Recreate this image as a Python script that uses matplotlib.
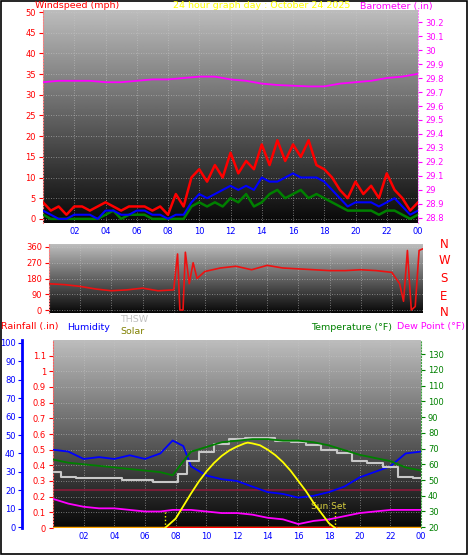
import numpy as np
import matplotlib
matplotlib.use("Agg")
import matplotlib.pyplot as plt
from matplotlib.patches import Rectangle

# ---------------- data ----------------
hours_half = [i * 0.5 for i in range(49)]
wind_gust = [4,2,3,1,3,3,2,3,4,3,2,3,3,3,2,3,1,6,3,10,12,9,13,10,16,11,14,12,18,13,19,14,18,15,19,13,12,10,7,5,9,6,8,5,11,7,5,2,4]
wind_avg = [2,1,0,0,1,1,1,0,2,2,1,1,2,2,1,1,0,1,1,4,6,5,6,7,8,7,8,7,10,9,9,10,11,10,10,10,9,7,5,3,4,4,4,3,4,5,3,1,2]
wind_speed = [1,0,0,0,0,0,0,0,1,2,0,1,1,1,0,0,0,0,0,3,4,3,4,3,5,4,6,3,4,6,7,5,6,7,5,6,5,4,3,2,2,2,2,1,2,2,1,0,1]

hours = list(range(25))
barometer = [29.77,29.78,29.78,29.78,29.77,29.77,29.78,29.79,29.79,29.80,29.81,29.81,29.79,29.78,29.76,29.75,29.745,29.74,29.74,29.76,29.77,29.78,29.80,29.81,29.83]

dir_hours = [0,1,2,3,4,5,6,7,8,8.25,8.4,8.6,8.75,9,9.25,9.5,10,11,12,13,14,15,16,17,18,19,20,21,22,22.5,22.75,23,23.25,23.5,23.75,24]
wind_dir = [150,145,135,120,110,115,125,110,115,320,0,0,330,150,270,180,220,240,250,230,255,240,235,230,225,225,230,225,215,150,50,340,0,20,340,350]

th_hours = [0,1,2,3,4,5,6,7,7.8,8.5,9,10,11,12,13,14,15,16,17,18,19,20,21,22,23,24]
humidity = [42,41,37,38,37,39,37,40,47,44,33,28,26,25,22,19,18,16,17,19,22,27,30,33,40,41]
temperature = [63,61,60,59,58,57,56,55,53,62,68,71,74,75,76,76,75,75,74,72,69,66,64,62,58,56]
thsw = [55,52,51,51,51,50,50,49,49,54,62,68,73,76,77,77,75,74,72,69,67,62,61,58,52,51]
dewpoint = [38,35,33,32,32,31,30,30,31,31,31,30,29,29,28,26,25,22,24,25,27,29,30,31,31,31]

solar_hours = [7.3,7.6,8,8.5,9,9.5,10,10.5,11,11.5,12,12.5,12.7,13,13.5,14,14.5,15,15.5,16,16.5,17,17.5,18,18.4]
solar = [0,25,60,140,220,295,360,415,460,495,520,540,545,540,528,500,465,420,365,300,235,160,95,30,0]
rain_hours = [0,24]
rainfall = [0,0]
sunrise, sunset = 7.3, 18.4

xticks = [2,4,6,8,10,12,14,16,18,20,22,24]
xticklabels = ["02","04","06","08","10","12","14","16","18","20","22","00"]

W, H = 468, 555
fig = plt.figure(figsize=(W/100, H/100), dpi=100)
fig.patch.set_facecolor("white")
fig.add_artist(Rectangle((0.002, 0.002), 0.996, 0.996, transform=fig.transFigure,
                         fill=False, edgecolor="black", lw=1.2))

def ax_at(l, t, r, b):
    return fig.add_axes([l/W, 1-b/H, (r-l)/W, (b-t)/H])

def gradient(ax):
    g = np.linspace(0.74, 0.03, 256).reshape(-1, 1)
    ax.imshow(g, cmap="gray", vmin=0, vmax=1, aspect="auto",
              extent=[0, 24, ax.get_ylim()[0], ax.get_ylim()[1]], zorder=0)
    ax.set_xlim(0, 24)

def style_x(ax):
    ax.set_xticks(xticks)
    ax.set_xticklabels(xticklabels, color="blue", fontsize=6)
    ax.tick_params(axis="x", length=0, pad=3)
    ax.grid(True, color="#c8c8c8", ls=(0, (1, 2)), lw=0.6, alpha=0.7)
    for s in ax.spines.values():
        s.set_visible(False)

FS = 6.8

# ---------------- top panel ----------------
ax1 = ax_at(43, 10, 418, 223)
ax1.set_ylim(-1, 50.5)
gradient(ax1)
style_x(ax1)
ax1.set_yticks(range(0, 51, 5))
ax1.tick_params(axis="y", colors="red", labelsize=6, length=3, pad=2)
ax1.spines["left"].set_visible(True)
ax1.spines["left"].set_color("#ff8080")
ax1.spines["left"].set_linestyle(":")
ax1.plot(hours_half, wind_gust, color="red", lw=1.8, zorder=3)
ax1.plot(hours_half, wind_speed, color="green", lw=1.8, zorder=4)
ax1.plot(hours_half, wind_avg, color="blue", lw=1.5, zorder=5)
ax1b = ax1.twinx()
ax1b.set_ylim(28.764, 30.286)
ax1b.set_yticks([28.8+0.1*i for i in range(15)])
ax1b.set_yticklabels([("30" if i == 12 else "29" if i == 2 else f"{28.8+0.1*i:.1f}") for i in range(15)])
ax1b.tick_params(axis="y", colors="magenta", labelsize=6, length=3, pad=2)
for s in ax1b.spines.values():
    s.set_visible(False)
ax1b.spines["right"].set_visible(True)
ax1b.spines["right"].set_color("#ff80ff")
ax1b.spines["right"].set_linestyle(":")
ax1b.plot(hours, barometer, color="magenta", lw=1.3, zorder=6)

fig.text(35/W, 1-6/H, "Windspeed (mph)", color="red", fontsize=FS, va="center")
fig.text(262/W, 1-6/H, "24 hour graph day : October 24 2025", color="yellow", fontsize=FS, va="center", ha="center")
fig.text(433/W, 1-6/H, "Barometer (.in)", color="magenta", fontsize=FS, va="center", ha="right")

# ---------------- middle panel ----------------
ax2 = ax_at(49, 244, 423, 313)
ax2.set_ylim(-17, 377)
gradient(ax2)
style_x(ax2)
ax2.set_xticklabels([])
ax2.set_yticks([0, 90, 180, 270, 360])
ax2.tick_params(axis="y", colors="red", labelsize=6, length=3, pad=2)
ax2.spines["left"].set_visible(True)
ax2.spines["left"].set_color("#ff8080")
ax2.spines["left"].set_linestyle(":")
ax2.plot(dir_hours, wind_dir, color="#ee1111", lw=1.2, zorder=3)
for lab, yv in zip(["N", "W", "S", "E", "N"], [245, 260, 278, 296, 313]):
    fig.text(444/W, 1-yv/H, lab, color="red", fontsize=8.5, ha="center", va="center")

# legend texts
fig.text(1/W, 1-327/H, "Rainfall (.in)", color="red", fontsize=FS, va="center")
fig.text(67/W, 1-327/H, "Humidity", color="blue", fontsize=FS, va="center")
fig.text(120/W, 1-319/H, "THSW", color="#c0c0c0", fontsize=FS, va="center")
fig.text(120/W, 1-332/H, "Solar", color="#808000", fontsize=FS, va="center")
fig.text(392/W, 1-327/H, "Temperature (°F)", color="green", fontsize=FS, va="center", ha="right")
fig.text(465/W, 1-327/H, "Dew Point (°F)", color="magenta", fontsize=FS, va="center", ha="right")

# ---------------- bottom panel ----------------
ax3 = ax_at(53, 340, 421, 528)
ax3.set_ylim(0, 1.2)
gradient(ax3)
style_x(ax3)
ax3.set_yticks([0.1*i for i in range(12)])
ax3.set_yticklabels(["0","0.1","0.2","0.3","0.4","0.5","0.6","0.7","0.8","0.9","1","1.1"])
ax3.tick_params(axis="y", colors="red", labelsize=6, length=3, pad=2)
ax3.spines["left"].set_visible(True)
ax3.spines["left"].set_color("#ff6060")
ax3.spines["left"].set_linestyle(":")
ax3.axhline(0.243, color="#8b1a3a", lw=1.2, zorder=2)
ax3.plot(rain_hours, rainfall, color="orange", lw=2.5, zorder=3)
ax3.plot([sunrise, sunset], [0, 0], color="red", lw=2.5, zorder=4)
for xv in (sunrise, sunset):
    ax3.plot([xv, xv], [0, 0.1], color="yellow", ls=":", lw=1, zorder=4)
ax3.text(16.8, 0.12, "Sun Set", color="#d8d040", fontsize=6.5, zorder=8)

axh = ax3.twinx()
axh.set_ylim(-0.5, 101.6)
axh.spines["right"].set_visible(False)
axh.spines["top"].set_visible(False)
axh.spines["bottom"].set_visible(False)
axh.spines["left"].set_visible(True)
axh.spines["left"].set_position(("outward", 22))
axh.spines["left"].set_color("blue")
axh.spines["left"].set_linewidth(2)
axh.yaxis.set_ticks_position("left")
axh.yaxis.set_label_position("left")
axh.set_yticks(range(0, 101, 10))
axh.tick_params(axis="y", colors="blue", labelsize=6, length=3, pad=2)
axh.plot(th_hours, humidity, color="blue", lw=1.3, zorder=5)

axt = ax3.twinx()
axt.set_ylim(19.5, 139)
for s in axt.spines.values():
    s.set_visible(False)
axt.spines["right"].set_visible(True)
axt.spines["right"].set_color("#40a040")
axt.spines["right"].set_linestyle(":")
axt.set_yticks(range(20, 131, 10))
axt.tick_params(axis="y", colors="green", labelsize=6, length=3, pad=2)
axt.step(th_hours, thsw, where="mid", color="#c8c8c8", lw=1.5, zorder=3)
axt.plot(th_hours, temperature, color="green", lw=1.3, zorder=4)
axt.plot(th_hours, dewpoint, color="magenta", lw=1.3, zorder=5)

axs = ax3.twinx()
axs.set_ylim(0, 1200)
axs.axis("off")
axs.plot(solar_hours, solar, color="yellow", lw=1.3, zorder=6)

fig.savefig("out.png", dpi=100, facecolor="white")
